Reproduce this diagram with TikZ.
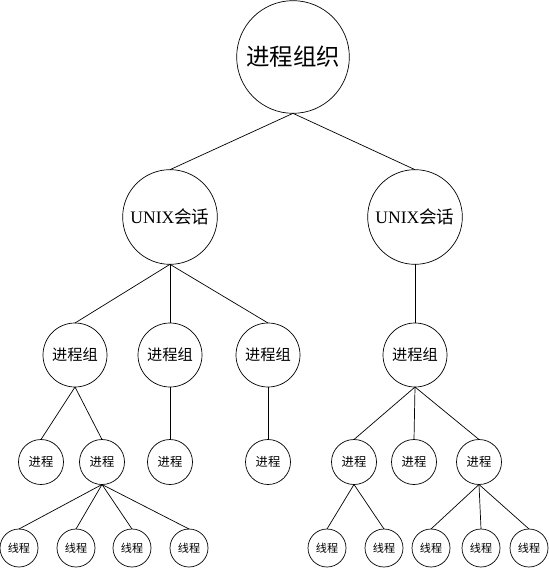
\documentclass[tikz,border=0pt]{standalone}
\usepackage{fontspec}
\setmainfont{Liberation Serif}
\newfontfamily\cjk{Noto Sans CJK SC}

\begin{document}
\begin{tikzpicture}[
  x=0.03cm, y=-0.03cm,
  no/.style={draw=black, circle, inner sep=0pt, outer sep=0pt, line width=0.6pt},
  raiz/.style={no, minimum size=3.38cm, font=\cjk\fontsize{20}{20}\selectfont},
  sessao/.style={no, minimum size=2.84cm, font=\fontsize{15}{15}\selectfont},
  grupo/.style={no, minimum size=1.92cm, font=\cjk\fontsize{13}{13}\selectfont},
  proc/.style={no, minimum size=1.35cm, font=\cjk\fontsize{10.5}{10.5}\selectfont},
  fio/.style={no, minimum size=1.14cm, font=\cjk\fontsize{9.5}{9.5}\selectfont},
  aresta/.style={line width=0.6pt}
]

% area total (pixels da figura)
\useasboundingbox (0,0) rectangle (548,569);

% ==========================================================
% Raiz e sessoes
% ==========================================================
\node[raiz] (org) at (293,57) {进程组织};
\node[sessao] (s1) at (170,217) {UNIX{\cjk 会话}};
\node[sessao] (s2) at (415,217) {UNIX{\cjk 会话}};

% ==========================================================
% Grupos de processos
% ==========================================================
\foreach \n/\x in {g1/75, g2/170, g3/268, g4/415}{
  \node[grupo] (\n) at (\x,355) {进程组};
}

% ==========================================================
% Processos
% ==========================================================
\foreach \n/\x in {p1/41, p2/102, p3/170, p4/268, p5/354, p6/414, p7/479}{
  \node[proc] (\n) at (\x,462) {进程};
}

% ==========================================================
% Threads
% ==========================================================
\foreach \n/\x in {t1/19, t2/76, t3/132, t4/189, t5/327, t6/384, t7/431, t8/481, t9/529}{
  \node[fio] (\n) at (\x,548) {线程};
}

% ==========================================================
% Ligacoes
% ==========================================================
\foreach \a/\b in {
  org/s1, org/s2,
  s1/g1, s1/g2, s1/g3, s2/g4,
  g1/p1, g1/p2, g2/p3, g3/p4, g4/p5, g4/p6, g4/p7,
  p2/t1, p2/t2, p2/t3, p2/t4,
  p5/t5, p5/t6, p7/t7, p7/t8, p7/t9%
}{
  \draw[aresta] (\a.south) -- (\b.north);
}

\end{tikzpicture}
\end{document}
